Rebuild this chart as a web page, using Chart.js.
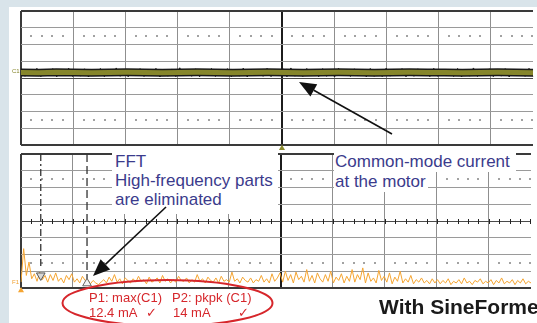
<!DOCTYPE html>
<html>
<head>
<meta charset="utf-8">
<script src="https://cdn.jsdelivr.net/npm/chart.js@4.4.0/dist/chart.umd.min.js"></script>
<style>
  html, body { margin: 0; padding: 0; }
  body { width: 537px; height: 323px; overflow: hidden; position: relative; background: #d9e4ea;
         font-family: "Liberation Sans", Arial, sans-serif; }
  #panel { position: absolute; left: 9px; top: 7px; right: 0; bottom: 0; background: #fff; }
  canvas { position: absolute; left: 0; top: 0; }
  .note { position: absolute; color: #3b3b8c; font-size: 17px; line-height: 19px; background: #fff; white-space: nowrap; }
  .red { position: absolute; color: #d6262b; font-size: 13px; line-height: 15px; white-space: nowrap; }
  .tag { position: absolute; font-size: 6px; line-height: 7px; }
  #art { position: absolute; left: 0; top: 0; }
  #brand { position: absolute; left: 379px; top: 296px; font-size: 21px; line-height: 22px; font-weight: bold; color: #1a1a1a; white-space: nowrap; }
</style>
</head>
<body>
<div id="panel"></div>
<canvas id="top" width="537" height="323"></canvas>
<canvas id="bottom" width="537" height="323"></canvas>

<div class="note" style="left:112px; top:150px; width:163px; height:62px; padding:2px 0 0 3px;">FFT<br>High-frequency parts<br>are eliminated</div>
<div class="note" style="left:334px; top:150px; width:181px; height:20px; padding:2px 0 0 1px;">Common-mode current</div>
<div class="note" style="left:334px; top:172px; padding:0 2px 1px 1px;">at the motor</div>

<div class="tag" style="left:12px; top:68px; color:#85852a;">C1</div>
<div class="tag" style="left:12px; top:279px; color:#f0a030;">F1</div>

<svg id="art" width="537" height="323">
  <ellipse cx="167.5" cy="303" rx="105" ry="23" fill="none" stroke="#d6262b" stroke-width="2"/>
  <line x1="392" y1="134" x2="313.8" y2="90.3" stroke="#111" stroke-width="1.6"/>
  <polygon points="299,82 317.2,84.2 310.4,96.4" fill="#111"/>
  <line x1="166" y1="207" x2="105.4" y2="264.3" stroke="#111" stroke-width="1.6"/>
  <polygon points="93,276 110.2,269.4 100.6,259.2" fill="#111"/>
</svg>

<div class="red" style="left:89px; top:290px;">P1: max(C1)</div>
<div class="red" style="left:172px; top:290px;">P2: pkpk (C1)</div>
<div class="red" style="left:89px; top:305px;">12.4 mA</div>
<div class="red" style="left:146px; top:305px;">✓</div>
<div class="red" style="left:173px; top:305px;">14 mA</div>
<div class="red" style="left:238px; top:305px;">✓</div>
<div id="brand">With SineFormer</div>

<script>
// C1: common-mode current, in divisions above screen centre
const traceLevels = [
  0.33, 0.32, 0.34, 0.33, 0.32, 0.33, 0.34, 0.33, 0.32, 0.33,
  0.34, 0.33, 0.32, 0.33, 0.34, 0.33, 0.32, 0.33, 0.34, 0.33,
  0.32, 0.33, 0.34, 0.33, 0.33, 0.32, 0.33, 0.34, 0.33, 0.32
];

// C1 noise envelope: the fast ripple that smears the trace edges
const traceNoise = [
  0.55, 0.10, 0.50, 0.13, 0.58, 0.08, 0.49, 0.12, 0.56, 0.07,
  0.52, 0.14, 0.59, 0.09, 0.48, 0.11, 0.55, 0.06, 0.51, 0.13,
  0.57, 0.08, 0.49, 0.15, 0.60, 0.10, 0.52, 0.07, 0.47, 0.12,
  0.56, 0.09, 0.51, 0.14, 0.58, 0.06, 0.50, 0.11, 0.54, 0.08,
  0.61, 0.12, 0.48, 0.10, 0.55, 0.07, 0.52, 0.15, 0.57, 0.09,
  0.49, 0.13, 0.56, 0.08, 0.51, 0.11, 0.59, 0.06, 0.50, 0.14,
  0.53, 0.10, 0.58, 0.08, 0.48, 0.12, 0.55, 0.07, 0.60, 0.11,
  0.51, 0.09, 0.57, 0.13, 0.49, 0.08, 0.56, 0.10, 0.52, 0.06,
  0.58, 0.12, 0.50, 0.09, 0.55, 0.14, 0.48, 0.07, 0.57, 0.10,
  0.52, 0.08, 0.59, 0.11, 0.50, 0.13, 0.56, 0.07, 0.49, 0.10,
  0.55, 0.12, 0.51, 0.08, 0.58, 0.10, 0.53, 0.14, 0.48, 0.09,
  0.57, 0.07, 0.52, 0.11, 0.60, 0.09, 0.50, 0.13, 0.55, 0.08,
  0.51, 0.11, 0.56, 0.06, 0.53, 0.12, 0.49, 0.10, 0.58, 0.09
];

// F1: FFT of C1, in divisions above the bottom of the lower screen
const fftLevels = [
  0.35, 2.35, 0.75, 1.55, 0.55,
  0.85, 0.40, 0.95, 0.50, 0.75, 0.35, 0.80, 0.45, 0.90, 0.40, 0.60, 0.30, 0.75,
  0.50, 0.85, 0.35, 0.55, 0.30, 0.70, 0.45, 0.50, 0.25, 0.45, 0.30, 0.20, 0.35,
  0.50, 0.30, 0.65, 0.40, 0.80, 0.35, 0.55, 0.25, 0.60, 0.45,
  0.30, 0.55, 0.35, 0.70, 0.40, 0.50, 0.25, 0.65, 0.35, 0.45,
  0.60, 0.30, 0.75, 0.40, 0.55, 0.30, 0.50, 0.35, 0.70, 0.45,
  0.40, 0.60, 0.30, 0.50, 0.35, 0.80, 0.40, 0.55, 0.30, 0.65,
  0.45, 0.35, 0.60, 0.30, 0.70, 0.40, 0.50, 0.35, 0.95, 0.40,
  0.55, 0.30, 0.65, 0.45, 0.35, 0.60, 0.30, 0.50, 0.40, 0.75,
  0.35, 0.55, 0.30, 0.85, 0.40, 0.60,
  0.90, 0.35, 1.00, 0.45, 0.80, 0.30, 0.95, 0.50, 0.70, 0.35,
  1.10, 0.40, 0.75, 0.30, 0.90, 0.55, 0.35, 0.80, 0.40, 1.00,
  0.30, 0.65, 0.45, 0.85, 0.30, 0.70, 0.40, 1.10, 0.35, 0.80,
  0.50, 1.20, 0.30, 0.90, 0.40, 0.60, 0.30, 1.05, 0.45, 0.70,
  0.35, 0.90, 0.25, 0.65, 0.40, 1.00, 0.30, 0.55, 0.35, 0.75,
  0.25, 0.50, 0.35, 0.60, 0.30, 0.45, 0.25, 0.55, 0.30,
  0.50, 0.25, 0.45, 0.30, 0.55, 0.20, 0.40, 0.30, 0.50, 0.25,
  0.60, 0.30, 0.40, 0.20, 0.45, 0.35, 0.55, 0.25, 0.40, 0.30,
  0.50, 0.20, 0.45, 0.30, 0.60, 0.25, 0.40, 0.30, 0.50, 0.20,
  0.45, 0.30, 0.55, 0.25, 0.40, 0.30
];

// cursors on the FFT screen: position (div) and where the dashed line stops
const cursorX = [0.38, 1.27];
const cursorEnd = [1.2, 0.35];

const GRID = '#8f8f8f', FRAME = '#3a3a3a', CENTRE = '#1c1c1c';
const DIVS_X = 9.81;  // the photo cuts the screen off just before the 10th division

const scopeMarks = {
  id: 'scopeMarks',
  beforeDatasetsDraw(chart, args, opts) {
    const { ctx, chartArea } = chart;
    const gx = chart.scales.gx, gy = chart.scales.gy;
    ctx.save();
    ctx.fillStyle = '#a2a2a2';
    (opts.dotRows || []).forEach(row => {
      const y = Math.round(gy.getPixelForValue(row));
      for (let d = 0; d < 10; d++) {
        for (let k = 1; k < 5; k++) {
          const x = Math.round(gx.getPixelForValue(d + k / 5));
          if (x < chartArea.right) ctx.fillRect(x - 1, y - 1, 2, 2);
        }
      }
    });
    if (opts.tickRow != null) {
      ctx.fillStyle = '#222';
      const y = Math.round(gy.getPixelForValue(opts.tickRow));
      for (let t = 0.2; t < DIVS_X; t += 0.2) {
        const x = Math.round(gx.getPixelForValue(t));
        ctx.fillRect(x, y - 2, 1, 5);
      }
    }
    ctx.restore();
  }
};

function scopeScales(yMin, yMax, labels) {
  const mid = (yMin + yMax) / 2;
  const v = c => (c.tick ? c.tick.value : NaN);
  return {
    gx: {
      type: 'linear', position: 'bottom', min: 0, max: DIVS_X,
      ticks: { display: false, stepSize: 1, includeBounds: false },
      border: { display: false },
      grid: {
        drawTicks: false,
        color: c => v(c) === 5 ? CENTRE : v(c) === 0 ? FRAME : GRID,
        lineWidth: c => (v(c) === 5 || v(c) === 0) ? 2 : 1
      }
    },
    gy: {
      type: 'linear', position: 'left', min: yMin, max: yMax,
      ticks: { display: false, stepSize: 1 },
      border: { display: false },
      grid: {
        drawTicks: false,
        color: c => (v(c) === yMin || v(c) === yMax) ? FRAME : v(c) === mid ? '#4a4a4a' : '#9a9a9a',
        lineWidth: c => (v(c) === yMin || v(c) === yMax) ? 2 : 1
      }
    },
    sx: { type: 'category', labels, display: false, offset: false }
  };
}

const common = {
  responsive: false,
  animation: false,
  events: [],
  plugins: { legend: { display: false }, tooltip: { enabled: false } }
};

// Chart.js paints the first dataset on top, so the olive core comes first
const topScales = scopeScales(-4, 4, traceLevels.map((_, i) => i));
topScales.nx = { type: 'category', labels: traceNoise.map((_, i) => i), display: false, offset: false };

new Chart(document.getElementById('top'), {
  type: 'line',
  data: {
    datasets: [
      { data: traceLevels, xAxisID: 'sx', yAxisID: 'gy', borderColor: '#86862b', borderWidth: 5, pointRadius: 0 },
      { data: traceNoise, xAxisID: 'nx', yAxisID: 'gy', borderColor: '#1a1a1a', borderWidth: 1, pointRadius: 0 },
      { data: traceLevels, xAxisID: 'sx', yAxisID: 'gy', borderColor: '#1a1a1a', borderWidth: 8, pointRadius: 0 },
      { data: [{ x: 5, y: -4.2 }], xAxisID: 'gx', yAxisID: 'gy', showLine: false, clip: false,
        pointStyle: 'triangle', pointRadius: 3.5, backgroundColor: '#8b8b2e', borderWidth: 0 }
    ]
  },
  options: {
    ...common,
    layout: { padding: { left: 21, top: 11, right: 0, bottom: 178 } },
    scales: topScales,
    plugins: { ...common.plugins, scopeMarks: { dotRows: [2.5, -2.5], tickRow: null } }
  },
  plugins: [scopeMarks]
});

new Chart(document.getElementById('bottom'), {
  type: 'line',
  data: {
    datasets: [
      { data: [{ x: cursorX[0], y: 0.75 }], xAxisID: 'gx', yAxisID: 'gy', showLine: false,
        pointStyle: 'triangle', rotation: 180, pointRadius: 5, backgroundColor: '#d8d8d8', borderColor: '#555', borderWidth: 1 },
      { data: [{ x: cursorX[1], y: 0.28 }], xAxisID: 'gx', yAxisID: 'gy', showLine: false,
        pointStyle: 'triangle', pointRadius: 5, backgroundColor: '#f4f4f4', borderColor: '#666', borderWidth: 1 },
      { data: fftLevels, xAxisID: 'sx', yAxisID: 'gy', borderColor: '#f5a532', borderWidth: 1, pointRadius: 0 },
      { data: [{ x: cursorX[0], y: 8 }, { x: cursorX[0], y: cursorEnd[0] }], xAxisID: 'gx', yAxisID: 'gy',
        borderColor: '#333', borderWidth: 1.3, borderDash: [7, 3, 2, 3], pointRadius: 0 },
      { data: [{ x: cursorX[1], y: 8 }, { x: cursorX[1], y: cursorEnd[1] }], xAxisID: 'gx', yAxisID: 'gy',
        borderColor: '#333', borderWidth: 1.3, borderDash: [8, 4], pointRadius: 0 },
      { data: [{ x: 0, y: -0.15 }], xAxisID: 'gx', yAxisID: 'gy', showLine: false, clip: false,
        pointStyle: 'triangle', pointRadius: 3.5, backgroundColor: '#f5a532', borderWidth: 0 }
    ]
  },
  options: {
    ...common,
    layout: { padding: { left: 21, top: 154, right: 0, bottom: 35 } },
    scales: scopeScales(0, 8, fftLevels.map((_, i) => i)),
    plugins: { ...common.plugins, scopeMarks: { dotRows: [6.5, 1.5], tickRow: 4 } }
  },
  plugins: [scopeMarks]
});
</script>
</body>
</html>
